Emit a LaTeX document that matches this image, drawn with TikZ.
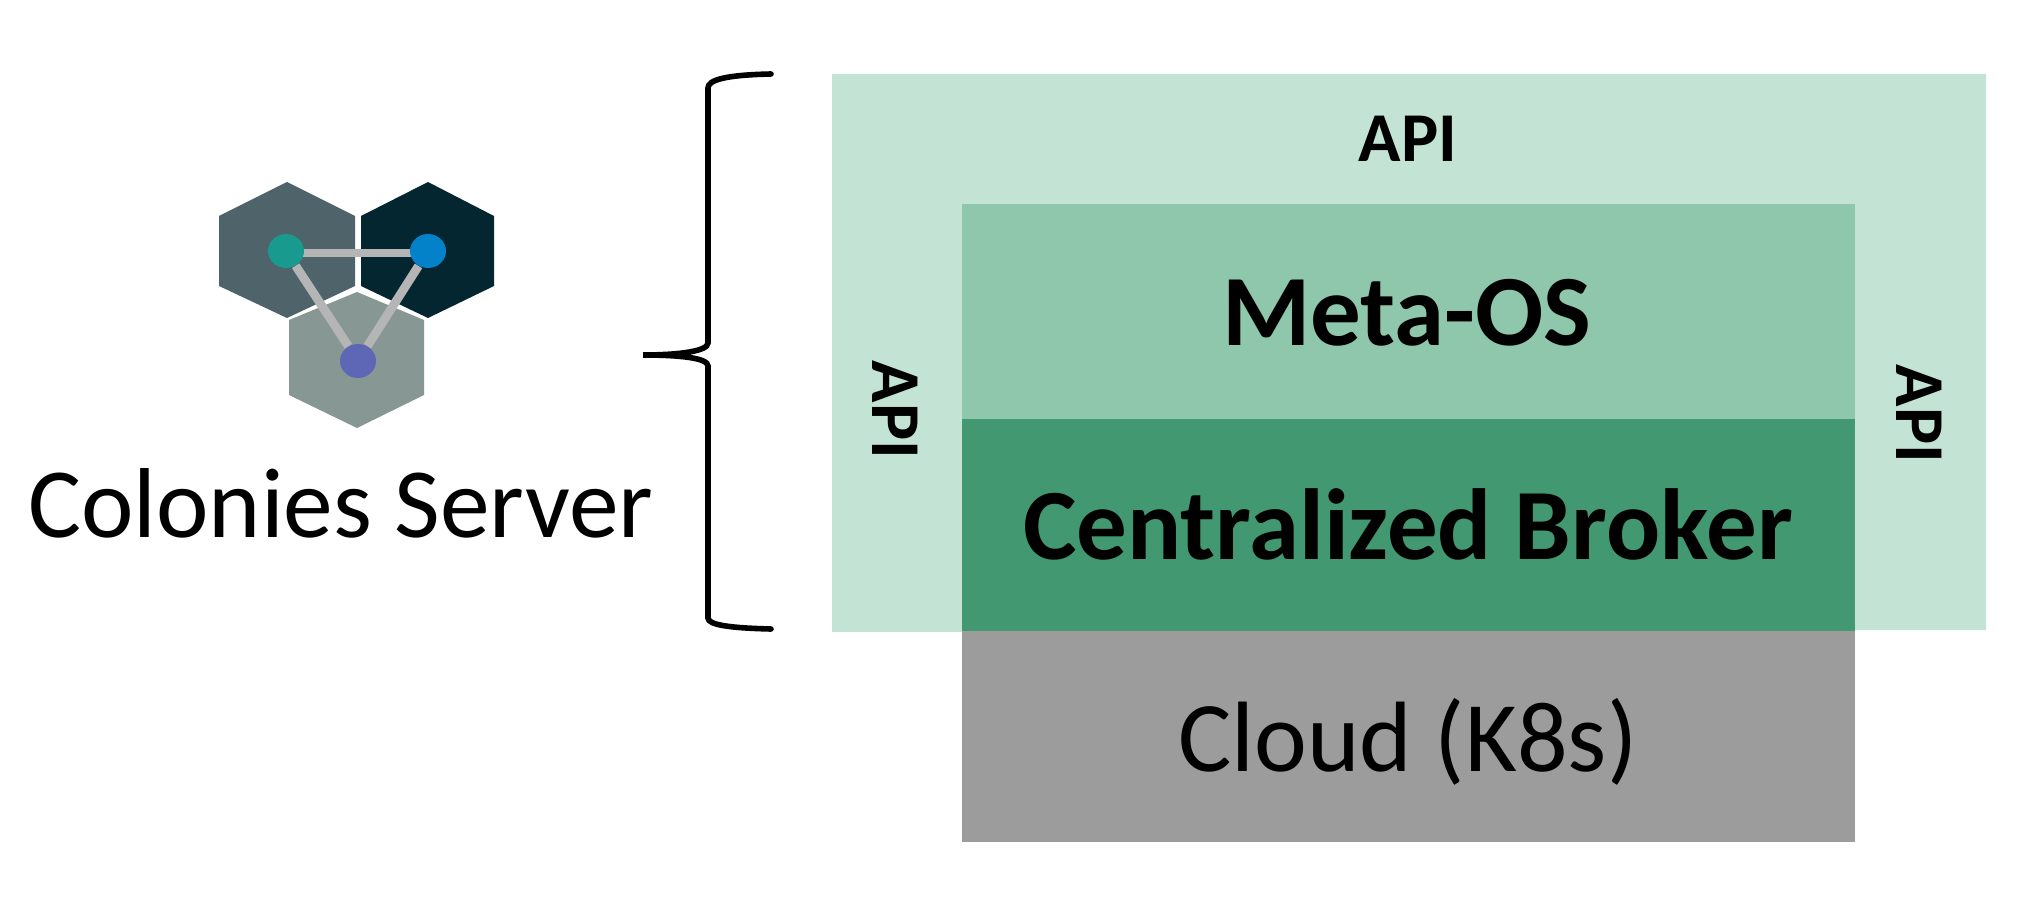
\documentclass[tikz,border=0pt]{standalone}
\usepackage{fontspec}
\setmainfont{Carlito}
\definecolor{apigreen}{HTML}{C3E3D4}
\definecolor{metagreen}{HTML}{8FC7AD}
\definecolor{brokergreen}{HTML}{429871}
\definecolor{cloudgrey}{HTML}{9C9C9C}
\definecolor{hexslate}{HTML}{4F636A}
\definecolor{hexnavy}{HTML}{032630}
\definecolor{hexsage}{HTML}{879794}
\definecolor{linkgrey}{HTML}{B5B5B5}
\definecolor{dotteal}{HTML}{189A8E}
\definecolor{dotblue}{HTML}{0482C9}
\definecolor{dotviolet}{HTML}{5D67B6}
\usetikzlibrary{shapes.geometric}
\tikzset{
	layerbox/.style={anchor=north west, inner sep=0pt, outer sep=0pt, minimum width=446.5pt},
	layerlabel/.style={anchor=base, font=\fontsize{50}{56}\selectfont, inner sep=0pt},
	boldlabel/.style={layerlabel, font=\fontsize{50.5}{56}\bfseries\selectfont},
	apilabel/.style={font=\fontsize{35}{38}\bfseries\selectfont, inner sep=0pt},
	dot/.style={ellipse, minimum width=18pt, minimum height=17pt, inner sep=0pt},
	link/.style={draw=linkgrey, line width=4.4pt},
}
\begin{document}
\begin{tikzpicture}[x=0.5pt, y=-0.5pt]
	\useasboundingbox (0,0) rectangle (2044,898);

	% logo
	\fill[hexslate] (287,182) -- (355,216) -- (355,286) -- (287,318) -- (219,286) -- (219,216) -- cycle;
	\fill[hexnavy] (428,182) -- (494,216) -- (494,286) -- (428,318) -- (361,286) -- (361,216) -- cycle;
	\fill[hexsage] (357,292) -- (424,320) -- (424,395) -- (357,428) -- (289,395) -- (289,320) -- cycle;
	\draw[link] (286,253) -- (428,253);
	\node[dot, fill=dotteal] (teal) at (286,251) {};
	\node[dot, fill=dotblue] (blue) at (428,251) {};
	\node[dot, fill=dotviolet] (violet) at (358,361) {};
	\draw[link] (teal) -- (violet);
	\draw[link] (blue) -- (violet);
	\node[layerlabel, font=\fontsize{49.7}{56}\selectfont] (server) at (341,537) {Colonies Server};

	% brace
	\draw[line width=2.8pt, line cap=round] (771,74) .. controls (725,75) and (708,80) .. (708,88)
		-- (708,343) .. controls (708,351) and (680,355) .. (643,355)
		.. controls (680,355) and (708,358) .. (708,366)
		-- (708,618) .. controls (708,625) and (730,628) .. (771,629);

	% layers
	\fill[apigreen] (832,74) -- (1986,74) -- (1986,630) -- (832,632) -- cycle;
	\node[layerbox, fill=metagreen, minimum height=107.5pt] (meta) at (962,204) {};
	\node[layerbox, fill=brokergreen, minimum height=106pt] (broker) at (962,419) {};
	\node[layerbox, fill=cloudgrey, minimum height=105.5pt] (cloud) at (962,631) {};
	\node[boldlabel] (metatext) at (1407,346) {Meta-OS};
	\node[boldlabel] (brokertext) at (1408,559) {Centralized Broker};
	\node[layerlabel] (cloudtext) at (1408,771) {Cloud (K8s)};
	\node[apilabel] (apitop) at (1408,139) {API};
	\node[apilabel, rotate=-90] (apileft) at (895,410) {API};
	\node[apilabel, rotate=-90] (apiright) at (1919,414) {API};
\end{tikzpicture}
\end{document}
